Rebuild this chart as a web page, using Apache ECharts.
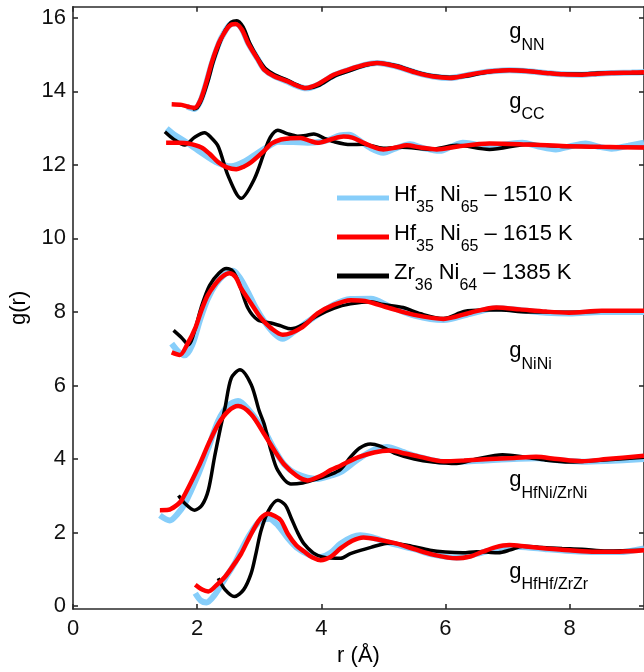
<!DOCTYPE html>
<html>
<head>
<meta charset="utf-8">
<script src="https://cdn.jsdelivr.net/npm/echarts@6/dist/echarts.min.js"></script>
<style>
  html, body { margin: 0; padding: 0; background: #fff; }
  #chart { width: 644px; height: 672px; }
</style>
</head>
<body>
<div id="chart"></div>
<script>
// Partial pair distribution functions g(r), stacked with vertical offsets.
const xTicks = [0, 2, 4, 6, 8];
const yTicks = [0, 2, 4, 6, 8, 10, 12, 14, 16];

const seriesNames = ['Hf_{35} Ni_{65} – 1510 K', 'Hf_{35} Ni_{65} – 1615 K', 'Zr_{36} Ni_{64} – 1385 K'];
const curveLabels = ['g_{NN}', 'g_{CC}', 'g_{NiNi}', 'g_{HfNi/ZrNi}', 'g_{HfHf/ZrZr}'];
// label anchors [r, g] (left edge, vertical centre)
const curveLabelAt = [[7.03, 15.52], [7.03, 13.64], [7.03, 6.85], [7.03, 3.34], [7.03, 0.86]];

// ---- g_NN (offset) ----
const nnBlue = [[1.84,13.58],[1.96,13.52],[2.05,13.72],[2.14,14.18],[2.23,14.72],[2.31,15.12],[2.39,15.45],[2.52,15.8],[2.62,15.85],[2.72,15.7],[2.82,15.32],[2.98,14.87],[3.08,14.6],[3.24,14.41],[3.46,14.26],[3.6,14.15],[3.75,14.08],[3.95,14.18],[4.2,14.43],[4.44,14.58],[4.7,14.72],[4.9,14.77],[5.2,14.68],[5.54,14.5],[5.8,14.4],[6.07,14.36],[6.3,14.42],[6.55,14.5],[6.8,14.55],[7.03,14.57],[7.3,14.55],[7.62,14.5],[7.9,14.46],[8.2,14.45],[8.45,14.48],[8.68,14.5],[9.0,14.51],[9.2,14.52]];
const nnRed = [[1.59,13.65],[1.75,13.63],[1.88,13.57],[1.96,13.55],[2.05,13.75],[2.14,14.2],[2.23,14.75],[2.31,15.15],[2.39,15.45],[2.52,15.78],[2.62,15.83],[2.72,15.68],[2.82,15.31],[2.98,14.86],[3.08,14.59],[3.24,14.41],[3.46,14.27],[3.6,14.16],[3.75,14.09],[3.95,14.2],[4.2,14.45],[4.44,14.59],[4.7,14.72],[4.9,14.77],[5.2,14.68],[5.54,14.5],[5.8,14.4],[6.07,14.36],[6.3,14.42],[6.55,14.5],[6.8,14.55],[7.03,14.57],[7.3,14.55],[7.62,14.5],[7.9,14.46],[8.2,14.45],[8.45,14.48],[8.68,14.5],[9.0,14.51],[9.2,14.52]];
const nnBlack = [[1.93,13.52],[2.0,13.55],[2.08,13.8],[2.17,14.25],[2.26,14.8],[2.35,15.25],[2.45,15.65],[2.55,15.88],[2.64,15.92],[2.74,15.75],[2.85,15.3],[2.98,14.9],[3.1,14.62],[3.25,14.45],[3.46,14.3],[3.6,14.18],[3.78,14.08],[3.95,14.15],[4.2,14.4],[4.44,14.55],[4.7,14.7],[4.92,14.77],[5.2,14.7],[5.54,14.52],[5.8,14.42],[6.07,14.38],[6.3,14.4],[6.55,14.48],[6.8,14.55],[7.03,14.57],[7.3,14.56],[7.62,14.5],[7.9,14.47],[8.2,14.47],[8.45,14.5],[8.68,14.5],[9.0,14.5],[9.2,14.5]];

// ---- g_CC (offset) ----
const ccBlue = [[1.51,12.99],[1.65,12.8],[1.8,12.64],[2.07,12.33],[2.3,12.08],[2.55,11.96],[2.75,12.08],[2.98,12.33],[3.15,12.5],[3.3,12.63],[3.55,12.62],[3.78,12.6],[4.0,12.63],[4.15,12.7],[4.3,12.8],[4.45,12.82],[4.6,12.68],[4.8,12.45],[5.0,12.33],[5.2,12.45],[5.43,12.56],[5.65,12.45],[5.91,12.38],[6.1,12.5],[6.28,12.6],[6.5,12.55],[6.71,12.52],[6.95,12.55],[7.24,12.6],[7.5,12.5],[7.78,12.42],[8.0,12.5],[8.26,12.58],[8.45,12.5],[8.68,12.44],[8.95,12.52],[9.2,12.6]];
const ccRed = [[1.5,12.6],[1.7,12.6],[1.86,12.58],[2.07,12.47],[2.2,12.3],[2.34,12.07],[2.48,11.93],[2.63,11.88],[2.75,11.95],[2.87,12.07],[3.08,12.38],[3.2,12.58],[3.35,12.69],[3.5,12.72],[3.67,12.73],[3.82,12.65],[3.94,12.6],[4.15,12.69],[4.36,12.77],[4.5,12.74],[4.68,12.6],[4.85,12.48],[5.0,12.42],[5.2,12.47],[5.38,12.53],[5.6,12.47],[5.86,12.42],[6.2,12.5],[6.71,12.58],[7.2,12.56],[7.88,12.51],[8.5,12.49],[9.2,12.47]];
const ccBlack = [[1.48,12.9],[1.62,12.7],[1.8,12.54],[1.96,12.75],[2.12,12.87],[2.22,12.75],[2.34,12.5],[2.5,11.7],[2.71,11.09],[2.92,11.61],[3.08,12.33],[3.18,12.75],[3.3,12.94],[3.45,12.85],[3.62,12.78],[3.75,12.8],[3.88,12.84],[4.05,12.72],[4.2,12.63],[4.47,12.55],[4.68,12.56],[5.0,12.45],[5.3,12.48],[5.75,12.42],[6.18,12.53],[6.71,12.42],[7.35,12.56],[7.88,12.5],[8.2,12.5],[8.7,12.48],[9.2,12.47]];

// ---- g_NiNi (offset) ----
const niBlue = [[1.59,7.14],[1.7,6.92],[1.8,6.82],[1.92,7.1],[2.05,7.8],[2.17,8.35],[2.3,8.75],[2.45,9.03],[2.58,9.12],[2.68,8.95],[2.8,8.6],[2.95,8.1],[3.1,7.7],[3.25,7.4],[3.38,7.27],[3.55,7.45],[3.75,7.7],[3.94,7.92],[4.2,8.2],[4.47,8.35],[4.8,8.36],[5.1,8.15],[5.5,7.9],[5.97,7.78],[6.4,7.95],[6.82,8.1],[7.2,8.05],[7.62,7.98],[8.0,7.96],[8.5,8.0],[9.2,8.0]];
const niRed = [[1.59,6.9],[1.72,6.83],[1.85,7.15],[1.97,7.56],[2.07,8.05],[2.17,8.45],[2.28,8.73],[2.4,8.95],[2.52,9.05],[2.62,8.95],[2.71,8.64],[2.87,8.23],[3.03,7.83],[3.19,7.56],[3.38,7.38],[3.67,7.56],[3.94,7.96],[4.2,8.19],[4.47,8.32],[4.7,8.3],[5.11,8.1],[5.5,7.92],[5.97,7.81],[6.4,7.98],[6.82,8.12],[7.2,8.07],[7.62,8.01],[7.99,7.98],[8.52,8.03],[9.2,8.03]];
const niBlack = [[1.62,7.5],[1.75,7.3],[1.86,7.11],[1.97,7.55],[2.07,8.15],[2.2,8.72],[2.35,9.05],[2.47,9.18],[2.58,9.1],[2.68,8.75],[2.82,8.1],[2.98,7.78],[3.19,7.7],[3.35,7.62],[3.51,7.54],[3.7,7.65],[3.94,7.9],[4.2,8.1],[4.47,8.22],[4.8,8.28],[5.0,8.2],[5.32,8.12],[5.6,7.95],[5.97,7.82],[6.3,8.01],[6.6,8.05],[6.9,8.05],[7.3,8.0],[7.6,8.0],[8.0,7.99],[8.5,8.02],[9.2,8.03]];

// ---- g_HfNi / g_ZrNi (offset) ----
const hnBlue = [[1.4,2.47],[1.56,2.33],[1.68,2.5],[1.8,2.78],[2.02,3.59],[2.18,4.3],[2.34,5.04],[2.5,5.45],[2.66,5.58],[2.85,5.3],[3.08,4.77],[3.25,4.25],[3.4,3.86],[3.6,3.6],[3.94,3.46],[4.15,3.55],[4.31,3.64],[4.6,4.0],[4.85,4.25],[5.06,4.33],[5.3,4.2],[5.59,4.05],[5.97,3.92],[6.3,3.93],[6.71,3.97],[7.1,4.0],[7.46,4.02],[7.8,3.97],[8.2,3.93],[8.6,3.95],[9.2,4.0]];
const hnRed = [[1.4,2.61],[1.54,2.62],[1.65,2.72],[1.75,2.88],[2.02,3.78],[2.18,4.4],[2.34,4.95],[2.5,5.3],[2.66,5.44],[2.87,5.22],[3.08,4.68],[3.25,4.22],[3.4,3.86],[3.6,3.55],[3.78,3.42],[4.0,3.55],[4.15,3.7],[4.31,3.82],[4.6,4.05],[4.85,4.18],[5.11,4.23],[5.35,4.15],[5.59,4.06],[5.97,3.94],[6.3,3.96],[6.71,4.0],[7.1,4.03],[7.46,4.06],[7.8,4.0],[8.2,3.94],[8.6,4.0],[9.2,4.09]];
const hnBlack = [[1.7,3.01],[1.8,2.8],[1.96,2.61],[2.08,2.75],[2.18,3.15],[2.28,4.05],[2.37,4.8],[2.45,5.4],[2.55,6.2],[2.69,6.43],[2.87,6.03],[3.0,5.31],[3.08,4.95],[3.19,4.23],[3.3,3.69],[3.51,3.32],[3.7,3.35],[3.94,3.46],[4.15,3.58],[4.31,3.72],[4.47,4.05],[4.62,4.3],[4.79,4.41],[4.95,4.35],[5.2,4.15],[5.5,4.0],[5.8,3.92],[6.18,3.88],[6.5,4.0],[6.92,4.12],[7.3,4.05],[7.62,3.97],[8.0,3.92],[8.5,3.97],[9.2,4.05]];

// ---- g_HfHf / g_ZrZr ----
const hhBlue = [[1.97,0.35],[2.06,0.15],[2.15,0.1],[2.28,0.3],[2.45,0.75],[2.6,1.15],[2.71,1.52],[2.85,1.95],[3.0,2.3],[3.16,2.38],[3.3,2.2],[3.46,1.85],[3.6,1.6],[3.8,1.4],[3.99,1.34],[4.15,1.45],[4.31,1.7],[4.5,1.88],[4.63,1.93],[4.8,1.88],[5.1,1.72],[5.5,1.55],[5.8,1.4],[6.18,1.32],[6.5,1.42],[6.8,1.55],[7.03,1.62],[7.3,1.6],[7.62,1.55],[8.0,1.5],[8.42,1.47],[8.8,1.47],[9.2,1.57]];
const hhRed = [[1.97,0.58],[2.08,0.45],[2.18,0.4],[2.3,0.55],[2.45,0.8],[2.6,1.15],[2.71,1.43],[2.82,1.8],[2.93,2.15],[3.03,2.4],[3.14,2.51],[3.25,2.45],[3.35,2.33],[3.46,1.97],[3.6,1.65],[3.73,1.48],[3.86,1.32],[3.99,1.25],[4.15,1.34],[4.31,1.57],[4.5,1.78],[4.68,1.87],[4.95,1.8],[5.22,1.7],[5.5,1.55],[5.8,1.4],[6.18,1.3],[6.4,1.35],[6.6,1.48],[6.8,1.6],[7.03,1.66],[7.3,1.62],[7.62,1.57],[8.0,1.52],[8.42,1.48],[8.8,1.48],[9.2,1.52]];
const hhBlack = [[2.34,0.76],[2.45,0.45],[2.6,0.26],[2.75,0.45],[2.87,0.89],[2.95,1.45],[3.03,2.06],[3.15,2.6],[3.3,2.88],[3.42,2.75],[3.51,2.42],[3.62,2.0],[3.72,1.7],[3.87,1.45],[4.02,1.34],[4.31,1.3],[4.47,1.43],[4.8,1.6],[5.11,1.72],[5.4,1.65],[5.75,1.52],[6.0,1.47],[6.28,1.45],[6.5,1.48],[6.66,1.47],[6.85,1.45],[7.05,1.53],[7.24,1.63],[7.5,1.6],[7.88,1.57],[8.2,1.55],[8.6,1.5],[9.2,1.52]];

const curves = [
  { name: seriesNames[0], color: '#87cefa', width: 6,   sets: [nnBlue, ccBlue, niBlue, hnBlue, hhBlue] },
  { name: seriesNames[2], color: '#000000', width: 3.5, sets: [nnBlack, ccBlack, niBlack, hnBlack, hhBlack] },
  { name: seriesNames[1], color: '#ff0000', width: 4.5, sets: [nnRed, ccRed, niRed, hnRed, hhRed] }
];

const FONT = '"Liberation Sans", Arial, Helvetica, sans-serif';
const AXIS_COLOR = '#2b2b2b';

// "Hf_{35} Ni_{65}" -> rich-text tokens with subscripts
function toRich(str) {
  return str.split(/(_\{[^}]*\})/).filter(Boolean).map(function (p) {
    return p.indexOf('_{') === 0 ? '{s|' + p.slice(2, -1) + '}' : '{m|' + p + '}';
  }).join('');
}
const rich = {
  m: { fontSize: 22, fontFamily: FONT, color: '#000', verticalAlign: 'top', lineHeight: 22 },
  s: { fontSize: 16, fontFamily: FONT, color: '#000', verticalAlign: 'top', padding: [16, 0, 0, 0], lineHeight: 28 }
};

const series = [];
curves.forEach(function (c) {
  c.sets.forEach(function (d) {
    series.push({
      type: 'line', name: c.name, data: d, symbol: 'none', smooth: 0.3,
      lineStyle: { color: c.color, width: c.width },
      itemStyle: { color: c.color },
      silent: true
    });
  });
});

const axisLineStyle = { color: AXIS_COLOR, width: 1.6 };
const chart = echarts.init(document.getElementById('chart'), null, { renderer: 'canvas' });
chart.setOption({
  animation: false,
  backgroundColor: '#fff',
  grid: { left: 70.5, top: 6.7, width: 575, height: 606, containLabel: false },
  legend: {
    orient: 'vertical', left: 337, top: 184, padding: 0,
    itemWidth: 52, itemHeight: 5, itemGap: 7, align: 'left',
    icon: 'rect',
    itemStyle: { borderWidth: 0 },
    data: [seriesNames[0], seriesNames[1], seriesNames[2]],
    formatter: function (n) { return toRich(n); },
    textStyle: { fontFamily: FONT, fontSize: 22, rich: rich },
    selectedMode: false
  },
  xAxis: [
    {
      type: 'value', min: 0, max: 9.2, position: 'bottom',
      name: 'r (Å)', nameLocation: 'middle', nameGap: 33,
      nameTextStyle: { fontFamily: FONT, fontSize: 22, color: '#000' },
      axisLine: { show: true, onZero: false, lineStyle: axisLineStyle },
      axisTick: { show: true, inside: true, length: 5, customValues: xTicks, lineStyle: axisLineStyle },
      axisLabel: { customValues: xTicks, fontFamily: FONT, fontSize: 22, color: '#111', margin: 9 },
      splitLine: { show: false }
    },
    {
      type: 'value', min: 0, max: 9.2, position: 'top',
      axisLine: { show: true, onZero: false, lineStyle: axisLineStyle },
      axisTick: { show: true, inside: true, length: 5, customValues: xTicks, lineStyle: axisLineStyle },
      axisLabel: { show: false },
      splitLine: { show: false }
    }
  ],
  yAxis: [
    {
      type: 'value', min: -0.08, max: 16.3, position: 'left',
      name: 'g(r)', nameLocation: 'middle', nameGap: 43,
      nameTextStyle: { fontFamily: FONT, fontSize: 22, color: '#000' },
      axisLine: { show: true, onZero: false, lineStyle: axisLineStyle },
      axisTick: { show: true, inside: true, length: 5, customValues: yTicks, lineStyle: axisLineStyle },
      axisLabel: { customValues: yTicks, fontFamily: FONT, fontSize: 22, color: '#111', margin: 7 },
      splitLine: { show: false }
    },
    {
      type: 'value', min: -0.08, max: 16.3, position: 'right',
      axisLine: { show: true, onZero: false, lineStyle: axisLineStyle },
      axisTick: { show: true, inside: true, length: 5, customValues: yTicks, lineStyle: axisLineStyle },
      axisLabel: { show: false },
      splitLine: { show: false }
    }
  ],
  series: series
});

// curve labels placed in data coordinates
const graphics = curveLabels.map(function (txt, i) {
  const p = chart.convertToPixel({ xAxisIndex: 0, yAxisIndex: 0 }, curveLabelAt[i]);
  return {
    type: 'text', x: p[0], y: p[1], silent: true, z: 100,
    style: { text: toRich(txt), rich: rich, verticalAlign: 'middle', align: 'left', font: '22px ' + FONT }
  };
});
chart.setOption({ graphic: graphics });
</script>
</body>
</html>
